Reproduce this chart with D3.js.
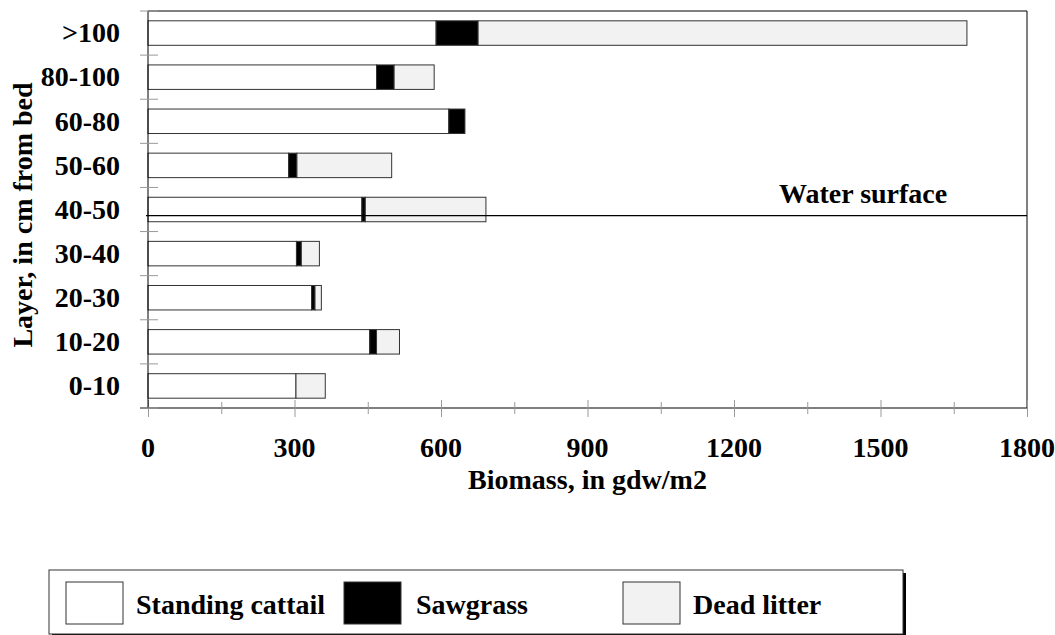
<!DOCTYPE html>
<html>
<head>
<meta charset="utf-8">
<script src="https://cdn.jsdelivr.net/npm/d3@7"></script>
<style>
  body { margin: 0; background: #fff; }
  text { font-family: "Liberation Serif", "Times New Roman", serif; font-weight: bold; fill: #000; }
</style>
</head>
<body>
<div id="chart"></div>
<script>
// layers, bottom to top
var layers = ["0-10", "10-20", "20-30", "30-40", "40-50", "50-60", "60-80", "80-100", ">100"];
var cattail = [303, 454, 335, 304, 438, 288, 616, 468, 590];
var sawgrass = [0, 14, 7, 10, 7, 17, 33, 36, 86];
var litter = [60, 47, 13, 37, 247, 194, 0, 82, 1001];
var seriesNames = ["Standing cattail", "Sawgrass", "Dead litter"];
var xTicks = [0, 300, 600, 900, 1200, 1500, 1800];
var waterLevel = "40-50";

var svgWidth = 1055, svgHeight = 635;
var margin = { top: 11, right: 28, bottom: 227, left: 148 };
var width = svgWidth - margin.left - margin.right;
var height = svgHeight - margin.top - margin.bottom;

var colors = { "Standing cattail": "#ffffff", "Sawgrass": "#000000", "Dead litter": "#f2f2f2" };
var fontSize = "28px";

var svg = d3.select("#chart").append("svg")
  .attr("width", svgWidth)
  .attr("height", svgHeight);

var chartGroup = svg.append("g")
  .attr("transform", `translate(${margin.left}, ${margin.top})`);

var rows = layers.map(function(l, i) {
  return { layer: l, "Standing cattail": cattail[i], "Sawgrass": sawgrass[i], "Dead litter": litter[i] };
});

var xScale = d3.scaleLinear().domain([0, 1800]).range([0, width]);
var yScale = d3.scaleBand()
  .domain(layers.slice().reverse())
  .range([0, height])
  .paddingInner(0.445)
  .paddingOuter(0.2225);

// frame (top and right)
chartGroup.append("path")
  .attr("d", `M0,0H${width}V${height}`)
  .attr("fill", "none")
  .attr("stroke", "#000")
  .attr("stroke-width", 1);

// stacked bars
var stacked = d3.stack().keys(seriesNames)(rows);
chartGroup.selectAll("g.series")
  .data(stacked)
  .enter()
  .append("g")
  .attr("fill", d => colors[d.key])
  .selectAll("rect")
  .data(d => d.filter(s => s[1] - s[0] > 0))
  .enter()
  .append("rect")
  .attr("x", d => xScale(d[0]))
  .attr("y", d => yScale(d.data.layer))
  .attr("width", d => xScale(d[1]) - xScale(d[0]))
  .attr("height", yScale.bandwidth())
  .attr("stroke", "#333")
  .attr("stroke-width", 1);

// water surface line
var wy = yScale(waterLevel) + yScale.bandwidth() * 0.75;
chartGroup.append("line")
  .attr("x1", -2).attr("x2", width)
  .attr("y1", wy).attr("y2", wy)
  .attr("stroke", "#000").attr("stroke-width", 1.2);
chartGroup.append("text")
  .attr("x", 631)
  .attr("y", wy - 13)
  .attr("font-size", fontSize)
  .text("Water surface");

// x axis
var xAxis = d3.axisBottom(xScale).tickValues(d3.range(0, 1801, 150)).tickSize(0).tickFormat("");
var xg = chartGroup.append("g")
  .attr("transform", `translate(0, ${height})`)
  .call(xAxis);
xg.select(".domain").attr("stroke", "#000").attr("d", `M-8,0H${width}`);
xg.selectAll(".tick").append("line")
  .attr("y1", d => d % 300 === 0 ? -8 : -6)
  .attr("y2", d => d % 300 === 0 ? 9 : 6)
  .attr("stroke", "#999");
chartGroup.append("g")
  .selectAll("text")
  .data(xTicks)
  .enter()
  .append("text")
  .attr("x", d => xScale(d))
  .attr("y", height + 49)
  .attr("text-anchor", "middle")
  .attr("font-size", fontSize)
  .text(d => d);

// y axis
chartGroup.append("line")
  .attr("x1", 0).attr("x2", 0)
  .attr("y1", 0).attr("y2", height)
  .attr("stroke", "#000");
var yTickPos = d3.range(layers.length + 1).map(i => i * height / layers.length);
chartGroup.append("g")
  .selectAll("line")
  .data(yTickPos)
  .enter()
  .append("line")
  .attr("x1", -8).attr("x2", 10)
  .attr("y1", d => d).attr("y2", d => d)
  .attr("stroke", "#999");
chartGroup.append("g")
  .selectAll("text")
  .data(layers)
  .enter()
  .append("text")
  .attr("x", -28)
  .attr("y", d => yScale(d) + yScale.bandwidth() / 2)
  .attr("dy", "0.33em")
  .attr("text-anchor", "end")
  .attr("font-size", fontSize)
  .text(d => d);

// axis titles
svg.append("text")
  .attr("transform", `translate(32, 215) rotate(-90)`)
  .attr("text-anchor", "middle")
  .attr("font-size", fontSize)
  .text("Layer, in cm from bed");
svg.append("text")
  .attr("x", margin.left + width / 2)
  .attr("y", 489)
  .attr("text-anchor", "middle")
  .attr("font-size", fontSize)
  .text("Biomass, in gdw/m2");

// legend
var legend = svg.append("g");
legend.append("rect")
  .attr("x", 52).attr("y", 573).attr("width", 854).attr("height", 63)
  .attr("fill", "#000");
legend.append("rect")
  .attr("x", 49).attr("y", 570).attr("width", 854).attr("height", 64)
  .attr("fill", "#fff").attr("stroke", "#333").attr("stroke-width", 1);
var legendX = [66, 344, 623];
var legendItems = legend.selectAll("g.item")
  .data(seriesNames)
  .enter()
  .append("g")
  .attr("transform", (d, i) => `translate(${legendX[i]}, 582)`);
legendItems.append("rect")
  .attr("width", 57).attr("height", 42)
  .attr("fill", d => colors[d])
  .attr("stroke", "#333");
legendItems.append("text")
  .attr("x", (d, i) => i === 1 ? 72 : 70)
  .attr("y", 32)
  .attr("font-size", fontSize)
  .text(d => d);
</script>
</body>
</html>
